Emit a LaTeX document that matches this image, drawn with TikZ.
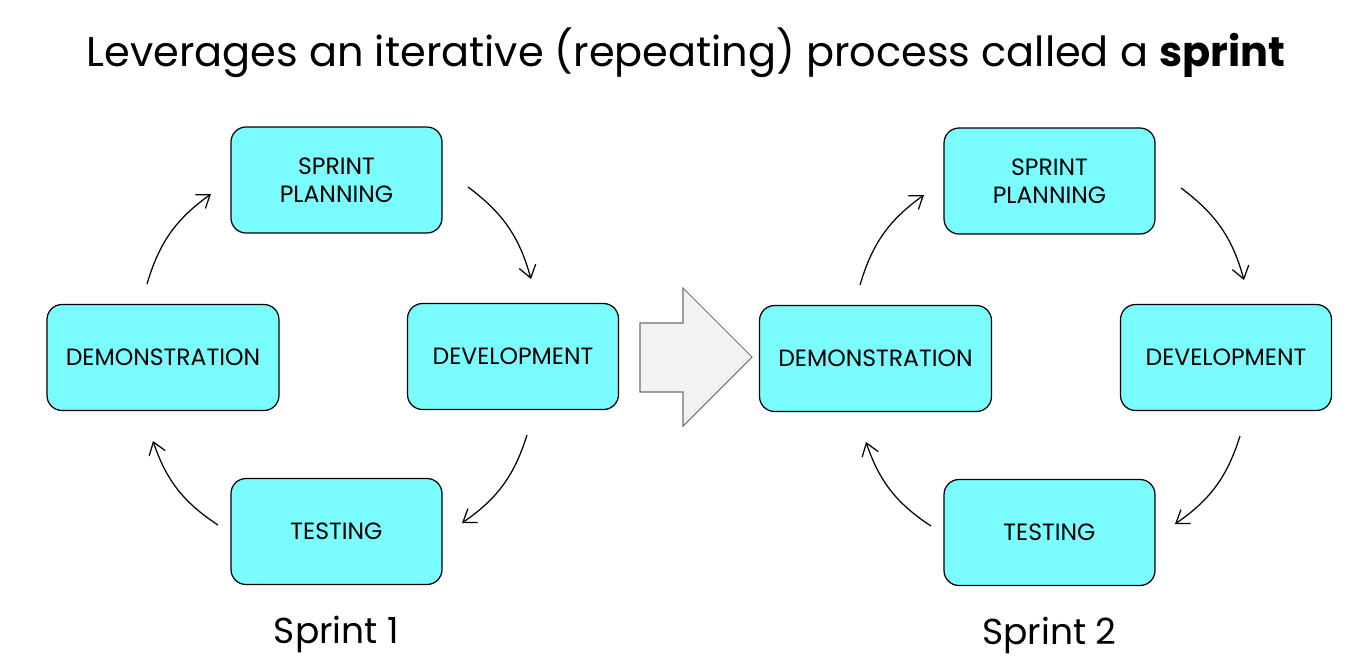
\documentclass[tikz,border=0pt]{standalone}
\usepackage{fontspec}
\setmainfont{Poppins}
\usetikzlibrary{arrows.meta}
\definecolor{boxcyan}{HTML}{7AFBFD}
\definecolor{arrowfill}{HTML}{F2F2F2}
\definecolor{arrowline}{HTML}{707070}
\tikzset{
  stepbox/.style={draw=black, line width=0.7pt, fill=boxcyan, rounded corners=0.3cm,
    minimum width=4.22cm, minimum height=2.12cm, align=center, inner sep=2pt,
    font=\fontsize{13.4}{15.9}\selectfont},
  widebox/.style={stepbox, minimum width=4.64cm},
  flow/.style={line width=0.7pt, -{Straight Barb[length=2.4mm, width=3.4mm]}, bend left=19},
  caption/.style={font=\fontsize{20.5}{24}\selectfont},
}
\begin{document}
\begin{tikzpicture}[x=0.02cm, y=-0.02cm]
\useasboundingbox[fill=white] (0,0) rectangle (1362,664);
\node[font=\fontsize{23.6}{28}\selectfont] (title) at (686,53) {Leverages an iterative (repeating) process called a \textbf{sprint}};

% Sprint 1
\node[stepbox] (plan1) at (336.5,180) {SPRINT\\PLANNING};
\node[widebox] (demo1) at (163,357.5) {DEMONSTRATION};
\node[stepbox] (dev1) at (513,356.5) {DEVELOPMENT};
\node[stepbox] (test1) at (336.5,531.5) {TESTING};
\node[caption] (cap1) at (336.5,634) {Sprint 1};

\coordinate (a1s) at (147,284); \coordinate (a1e) at (211,194);
\coordinate (b1s) at (468,187); \coordinate (b1e) at (531,279);
\coordinate (c1s) at (527,435); \coordinate (c1e) at (462,523);
\coordinate (d1s) at (218,525); \coordinate (d1e) at (153,441);
\draw[flow] (a1s) to (a1e);
\draw[flow] (b1s) to (b1e);
\draw[flow] (c1s) to (c1e);
\draw[flow] (d1s) to (d1e);

% Sprint 2
\node[stepbox] (plan2) at (1049.5,181) {SPRINT\\PLANNING};
\node[widebox] (demo2) at (875.5,358.5) {DEMONSTRATION};
\node[stepbox] (dev2) at (1226,357.5) {DEVELOPMENT};
\node[stepbox] (test2) at (1049.5,532.5) {TESTING};
\node[caption] (cap2) at (1049.5,635) {Sprint 2};

\coordinate (a2s) at (860,285); \coordinate (a2e) at (924,195);
\coordinate (b2s) at (1181,188); \coordinate (b2e) at (1244,280);
\coordinate (c2s) at (1240,436); \coordinate (c2e) at (1175,524);
\coordinate (d2s) at (931,526); \coordinate (d2e) at (866,442);
\draw[flow] (a2s) to (a2e);
\draw[flow] (b2s) to (b2e);
\draw[flow] (c2s) to (c2e);
\draw[flow] (d2s) to (d2e);

% big arrow between sprints
\draw[draw=arrowline, fill=arrowfill, line width=0.6pt, line join=miter]
  (640,323) -- (683,323) -- (683,288) -- (752,357) -- (683,426) -- (683,392) -- (640,392) -- cycle;
\end{tikzpicture}
\end{document}
